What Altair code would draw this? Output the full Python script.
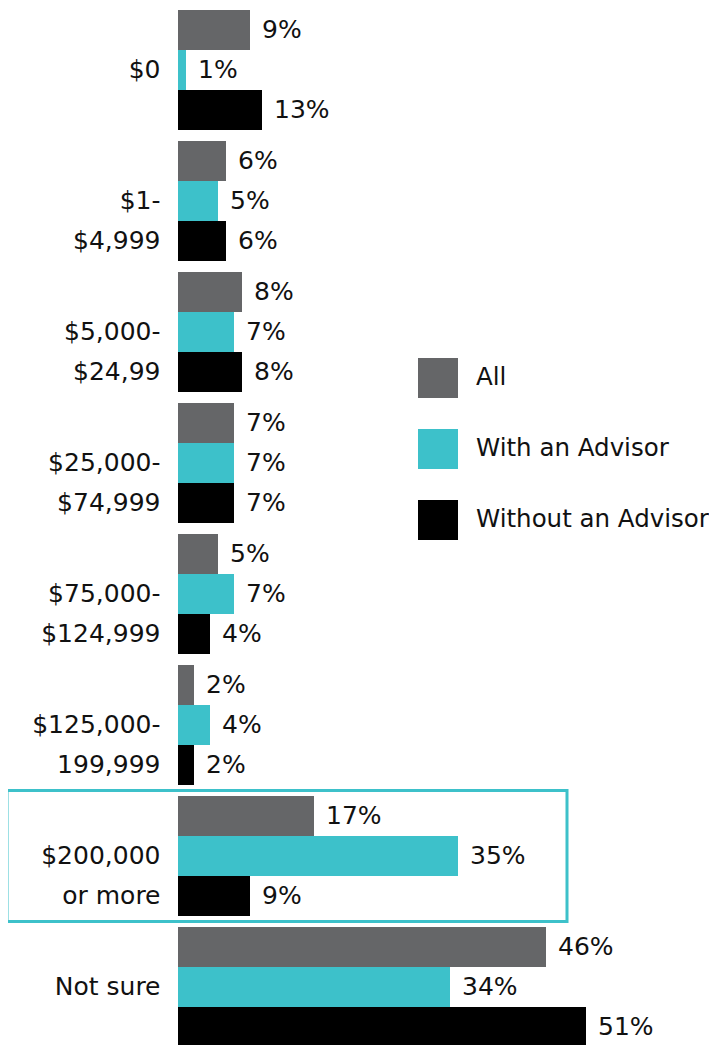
import altair as alt
import pandas as pd

categories = ["$0", "$1-|$4,999", "$5,000-|$24,99", "$25,000-|$74,999",
              "$75,000-|$124,999", "$125,000-|199,999", "$200,000|or more", "Not sure"]
series = ["All", "With an Advisor", "Without an Advisor"]
colors = ["#656668", "#3DC1CA", "#000000"]

all_vals = [9, 6, 8, 7, 5, 2, 17, 46]
with_vals = [1, 5, 7, 7, 7, 4, 35, 34]
without_vals = [10.5, 6, 8, 7, 4, 2, 9, 51]
all_labels = ["9%", "6%", "8%", "7%", "5%", "2%", "17%", "46%"]
with_labels = ["1%", "5%", "7%", "7%", "7%", "4%", "35%", "34%"]
without_labels = ["13%", "6%", "8%", "7%", "4%", "2%", "9%", "51%"]

highlight = ["$200,000|or more"]

rows = []
for vals, labs, s in [(all_vals, all_labels, series[0]),
                      (with_vals, with_labels, series[1]),
                      (without_vals, without_labels, series[2])]:
    for c, v, l in zip(categories, vals, labs):
        rows.append({"category": c, "series": s, "value": v, "label": l})
df = pd.DataFrame(rows)
hl = pd.DataFrame({"category": highlight})

FONT = "DejaVu Sans"
W = 531
H = 1037
PX_PER_PCT = 8

y_scale = alt.Scale(paddingInner=11 / 131, paddingOuter=2 / 131, range=[0, 1041])
y_enc = alt.Y("category:N", sort=categories, scale=y_scale,
              axis=alt.Axis(title=None, domain=False, ticks=False, labelPadding=18,
                            labelFontSize=25, labelFont=FONT, labelColor="#111111",
                            labelLineHeight=40, labelAlign="right", labelBaseline="middle",
                            labelExpr="split(datum.label, '|')", labelLimit=300))
x_enc = alt.X("value:Q", scale=alt.Scale(domain=[0, W / PX_PER_PCT], nice=False), axis=None)
yoff = alt.YOffset("series:N", sort=series, scale=alt.Scale(paddingInner=0, paddingOuter=0))

base = alt.Chart(df)
bars = base.mark_bar().encode(
    y=y_enc, x=x_enc, yOffset=yoff,
    color=alt.Color("series:N", sort=series,
                    scale=alt.Scale(domain=series, range=colors),
                    legend=alt.Legend(title=None, orient="none", legendX=240, legendY=350,
                                      symbolType="square", symbolSize=1600, symbolStrokeWidth=0,
                                      symbolOpacity=1, rowPadding=31, labelOffset=18,
                                      labelFontSize=24.5, labelFont=FONT, labelColor="#111111",
                                      labelLimit=400, padding=0)),
)
texts = base.mark_text(align="left", baseline="middle", dx=12, fontSize=25, font=FONT,
                       color="#111111").encode(
    y=alt.Y("category:N", sort=categories), x="value:Q", yOffset=yoff, text="label:N")

box = alt.Chart(hl).mark_rect(filled=False, stroke="#3DC1CA", strokeWidth=3,
                              height={"band": 131 / 120}).encode(
    y=alt.Y("category:N", sort=categories),
    x=alt.value(-171), x2=alt.value(389))

chart = alt.layer(bars, texts, box).properties(
    width=W, height=H,
    autosize=alt.AutoSizeParams(type="none"),
    padding={"left": 170, "top": 0, "right": 0, "bottom": 0},
).configure_view(stroke=None).configure_axis(grid=False)

chart.save("out.html", embed_options={"renderer": "svg", "actions": False})
